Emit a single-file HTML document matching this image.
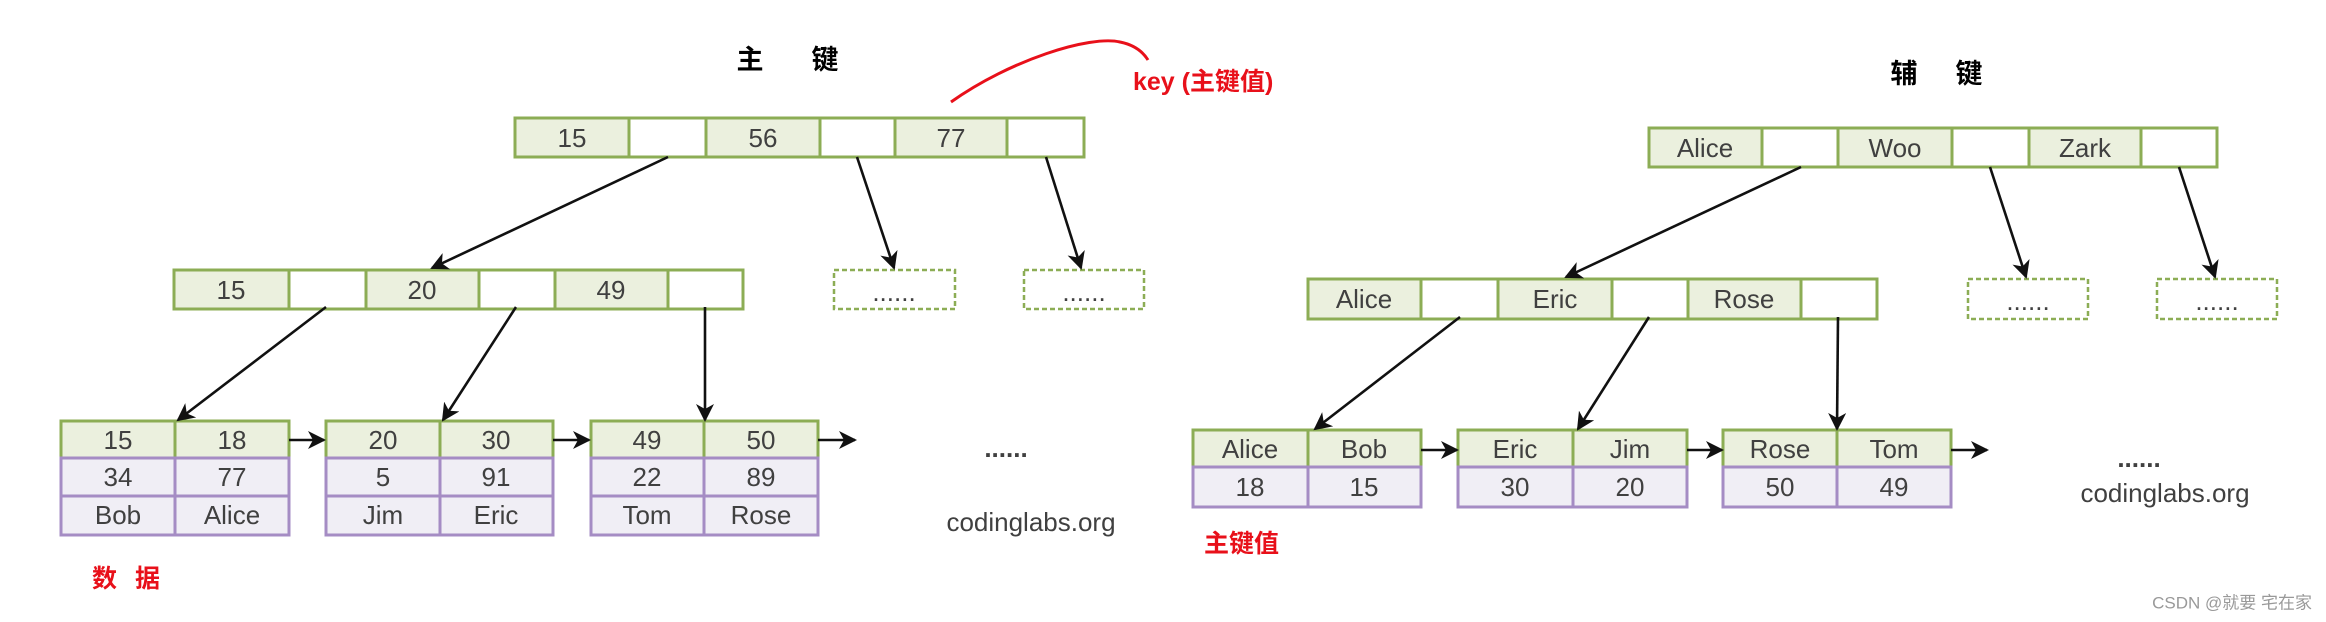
<!DOCTYPE html>
<html><head><meta charset="utf-8"><style>
html,body{margin:0;padding:0;background:#fff;}
svg{display:block;}
.t{font-family:"Liberation Sans","Noto Sans CJK SC",sans-serif;font-size:26px;fill:#404040;text-anchor:middle;dominant-baseline:central;}
.cn{font-family:"Liberation Sans","Noto Sans CJK SC",sans-serif;font-weight:bold;}
.g{fill:#ebf0de;stroke:#8cad55;stroke-width:3;}
.w{fill:#fff;stroke:#8cad55;stroke-width:3;}
.p{fill:#f0eef5;stroke:#a58cc4;stroke-width:3;}
.d{fill:#fff;stroke:#8cad55;stroke-width:2.5;stroke-dasharray:5 3;}
.a{stroke:#111;stroke-width:2.6;fill:none;marker-end:url(#ah);}
</style></head><body>
<svg width="2326" height="622" viewBox="0 0 2326 622" xmlns="http://www.w3.org/2000/svg">
<defs><marker id="ah" markerWidth="10" markerHeight="10" refX="8" refY="5" orient="auto" markerUnits="userSpaceOnUse" viewBox="0 0 10 10"><path d="M0,0 L10,5 L0,10 L3,5 z" fill="#111" transform="scale(1)"/></marker>
<marker id="ah2" markerWidth="18" markerHeight="18" refX="16" refY="9" orient="auto" markerUnits="userSpaceOnUse"><path d="M0,0 L18,9 L0,18 L5,9 z" fill="#111"/></marker></defs>
<style>.a{marker-end:url(#ah2);}</style>

<!-- LEFT: 主键 -->
<text x="750" y="60" class="cn" font-size="27" text-anchor="middle" dominant-baseline="central" fill="#000">主</text>
<text x="825" y="60" class="cn" font-size="27" text-anchor="middle" dominant-baseline="central" fill="#000">键</text>
<path d="M951,102 C1010,60 1090,35 1120,42 C1135,45 1143,52 1148,60" stroke="#e8101a" stroke-width="3" fill="none"/>
<text x="1133" y="82" class="cn" font-size="25" fill="#e8101a" dominant-baseline="central">key (主键值)</text>

<!-- root left -->
<rect x="515" y="118" width="114" height="39" class="g"/><rect x="629" y="118" width="77" height="39" class="w"/>
<rect x="706" y="118" width="114" height="39" class="g"/><rect x="820" y="118" width="75" height="39" class="w"/>
<rect x="895" y="118" width="112" height="39" class="g"/><rect x="1007" y="118" width="77" height="39" class="w"/>
<text x="572" y="138" class="t">15</text><text x="763" y="138" class="t">56</text><text x="951" y="138" class="t">77</text>

<!-- level2 left -->
<rect x="174" y="270" width="115" height="39" class="g"/><rect x="289" y="270" width="77" height="39" class="w"/>
<rect x="366" y="270" width="113" height="39" class="g"/><rect x="479" y="270" width="76" height="39" class="w"/>
<rect x="555" y="270" width="113" height="39" class="g"/><rect x="668" y="270" width="75" height="39" class="w"/>
<text x="231" y="290" class="t">15</text><text x="422" y="290" class="t">20</text><text x="611" y="290" class="t">49</text>
<rect x="834" y="270" width="121" height="39" class="d"/><rect x="1024" y="270" width="120" height="39" class="d"/>
<text x="894" y="292" class="t" font-size="14">......</text><text x="1084" y="292" class="t" font-size="14">......</text>

<line x1="668" y1="157" x2="432" y2="268" class="a"/>
<line x1="857" y1="157" x2="894" y2="268" class="a"/>
<line x1="1046" y1="157" x2="1081" y2="268" class="a"/>

<!-- leaves left -->
<g>
<rect x="61" y="421" width="114" height="37" class="g"/><rect x="175" y="421" width="114" height="37" class="g"/>
<rect x="61" y="458" width="114" height="38" class="p"/><rect x="175" y="458" width="114" height="38" class="p"/>
<rect x="61" y="496" width="114" height="39" class="p"/><rect x="175" y="496" width="114" height="39" class="p"/>
<text x="118" y="440" class="t">15</text><text x="232" y="440" class="t">18</text>
<text x="118" y="477" class="t">34</text><text x="232" y="477" class="t">77</text>
<text x="118" y="515" class="t">Bob</text><text x="232" y="515" class="t">Alice</text>
</g>
<g>
<rect x="326" y="421" width="114" height="37" class="g"/><rect x="440" y="421" width="113" height="37" class="g"/>
<rect x="326" y="458" width="114" height="38" class="p"/><rect x="440" y="458" width="113" height="38" class="p"/>
<rect x="326" y="496" width="114" height="39" class="p"/><rect x="440" y="496" width="113" height="39" class="p"/>
<text x="383" y="440" class="t">20</text><text x="496" y="440" class="t">30</text>
<text x="383" y="477" class="t">5</text><text x="496" y="477" class="t">91</text>
<text x="383" y="515" class="t">Jim</text><text x="496" y="515" class="t">Eric</text>
</g>
<g>
<rect x="591" y="421" width="113" height="37" class="g"/><rect x="704" y="421" width="114" height="37" class="g"/>
<rect x="591" y="458" width="113" height="38" class="p"/><rect x="704" y="458" width="114" height="38" class="p"/>
<rect x="591" y="496" width="113" height="39" class="p"/><rect x="704" y="496" width="114" height="39" class="p"/>
<text x="647" y="440" class="t">49</text><text x="761" y="440" class="t">50</text>
<text x="647" y="477" class="t">22</text><text x="761" y="477" class="t">89</text>
<text x="647" y="515" class="t">Tom</text><text x="761" y="515" class="t">Rose</text>
</g>
<line x1="326" y1="307" x2="178" y2="420" class="a"/>
<line x1="516" y1="307" x2="443" y2="420" class="a"/>
<line x1="705" y1="307" x2="705" y2="420" class="a"/>
<line x1="289" y1="440" x2="324" y2="440" class="a"/>
<line x1="553" y1="440" x2="589" y2="440" class="a"/>
<line x1="818" y1="440" x2="855" y2="440" class="a"/>
<text x="1006" y="448" class="t" font-size="30" font-weight="bold" fill="#111">......</text>
<text x="1031" y="522" class="t" font-size="25" fill="#999">codinglabs.org</text>
<text x="92" y="579" class="cn" font-size="25" fill="#e8101a" dominant-baseline="central">数</text>
<text x="135" y="579" class="cn" font-size="25" fill="#e8101a" dominant-baseline="central">据</text>

<!-- RIGHT: 辅键 -->
<text x="1904" y="74" class="cn" font-size="27" text-anchor="middle" dominant-baseline="central" fill="#000">辅</text>
<text x="1969" y="74" class="cn" font-size="27" text-anchor="middle" dominant-baseline="central" fill="#000">键</text>

<rect x="1649" y="128" width="113" height="39" class="g"/><rect x="1762" y="128" width="76" height="39" class="w"/>
<rect x="1838" y="128" width="114" height="39" class="g"/><rect x="1952" y="128" width="77" height="39" class="w"/>
<rect x="2029" y="128" width="112" height="39" class="g"/><rect x="2141" y="128" width="76" height="39" class="w"/>
<text x="1705" y="148" class="t">Alice</text><text x="1895" y="148" class="t">Woo</text><text x="2085" y="148" class="t">Zark</text>

<rect x="1308" y="279" width="113" height="40" class="g"/><rect x="1421" y="279" width="77" height="40" class="w"/>
<rect x="1498" y="279" width="114" height="40" class="g"/><rect x="1612" y="279" width="76" height="40" class="w"/>
<rect x="1688" y="279" width="113" height="40" class="g"/><rect x="1801" y="279" width="76" height="40" class="w"/>
<text x="1364" y="299" class="t">Alice</text><text x="1555" y="299" class="t">Eric</text><text x="1744" y="299" class="t">Rose</text>
<rect x="1968" y="279" width="120" height="40" class="d"/><rect x="2157" y="279" width="120" height="40" class="d"/>
<text x="2028" y="301" class="t" font-size="14">......</text><text x="2217" y="301" class="t" font-size="14">......</text>

<line x1="1801" y1="167" x2="1566" y2="277" class="a"/>
<line x1="1990" y1="167" x2="2026" y2="277" class="a"/>
<line x1="2179" y1="167" x2="2215" y2="277" class="a"/>

<g>
<rect x="1193" y="430" width="115" height="37" class="g"/><rect x="1308" y="430" width="113" height="37" class="g"/>
<rect x="1193" y="467" width="115" height="40" class="p"/><rect x="1308" y="467" width="113" height="40" class="p"/>
<text x="1250" y="449" class="t">Alice</text><text x="1364" y="449" class="t">Bob</text>
<text x="1250" y="487" class="t">18</text><text x="1364" y="487" class="t">15</text>
</g>
<g>
<rect x="1458" y="430" width="115" height="37" class="g"/><rect x="1573" y="430" width="114" height="37" class="g"/>
<rect x="1458" y="467" width="115" height="40" class="p"/><rect x="1573" y="467" width="114" height="40" class="p"/>
<text x="1515" y="449" class="t">Eric</text><text x="1630" y="449" class="t">Jim</text>
<text x="1515" y="487" class="t">30</text><text x="1630" y="487" class="t">20</text>
</g>
<g>
<rect x="1723" y="430" width="114" height="37" class="g"/><rect x="1837" y="430" width="114" height="37" class="g"/>
<rect x="1723" y="467" width="114" height="40" class="p"/><rect x="1837" y="467" width="114" height="40" class="p"/>
<text x="1780" y="449" class="t">Rose</text><text x="1894" y="449" class="t">Tom</text>
<text x="1780" y="487" class="t">50</text><text x="1894" y="487" class="t">49</text>
</g>
<line x1="1460" y1="317" x2="1315" y2="429" class="a"/>
<line x1="1649" y1="317" x2="1578" y2="429" class="a"/>
<line x1="1838" y1="317" x2="1837" y2="429" class="a"/>
<line x1="1421" y1="450" x2="1457" y2="450" class="a"/>
<line x1="1687" y1="450" x2="1722" y2="450" class="a"/>
<line x1="1951" y1="450" x2="1987" y2="450" class="a"/>
<text x="2139" y="458" class="t" font-size="30" font-weight="bold" fill="#111">......</text>
<text x="2165" y="493" class="t" font-size="25" fill="#999">codinglabs.org</text>
<text x="1204" y="544" class="cn" font-size="25" fill="#e8101a" dominant-baseline="central">主键值</text>
<text x="2312" y="603" font-family="Liberation Sans, Noto Sans CJK SC, sans-serif" font-size="17" fill="#999" text-anchor="end" dominant-baseline="central">CSDN @就要 宅在家</text>
</svg>
</body></html>
